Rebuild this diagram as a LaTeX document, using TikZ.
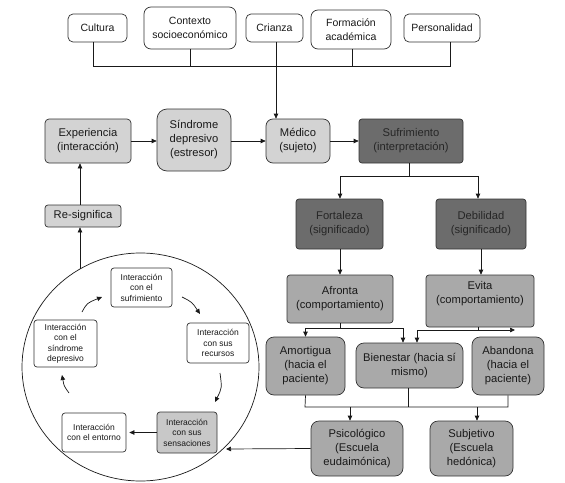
\documentclass[tikz,border=0pt]{standalone}
\usepackage{fontspec}
\setmainfont{Liberation Sans}
\usetikzlibrary{arrows.meta,calc,shapes.geometric}
\definecolor{lg}{HTML}{D3D3D3}
\definecolor{dg}{HTML}{6C6C6C}
\definecolor{mg}{HTML}{A9A9A9}
\definecolor{sg}{HTML}{C8C8C8}
\definecolor{bd}{HTML}{333333}
\newcommand{\fsTop}{\fontsize{10.5}{14}\selectfont}
\newcommand{\fsMain}{\fontsize{11.2}{14}\selectfont}
\newcommand{\fsIn}{\fontsize{8.5}{10.5}\selectfont}
\begin{document}
\begin{tikzpicture}[x=1pt,y=-1pt,
  box/.style={draw=bd, line width=0.7pt, align=center, inner sep=1pt, text=black!90},
  topbox/.style={box, rounded corners=5pt, fill=white, font=\fsTop},
  lbox/.style={box, fill=lg, font=\fsMain},
  dbox/.style={box, fill=dg, rounded corners=3pt, font=\fsMain, text=black!85},
  mbox/.style={box, fill=mg, font=\fsMain},
  ibox/.style={box, fill=white, rounded corners=3pt, font=\fsIn},
  ln/.style={line width=0.7pt, draw=black!90},
  arr/.style={ln, -{Triangle[length=5pt,width=4.5pt]}}
]
\useasboundingbox (0,0) rectangle (565,482);

% top row
\node[topbox, minimum width=59pt, minimum height=28pt] (cultura) at (97.5,28) {Cultura};
\node[topbox, rounded corners=7pt, minimum width=92pt, minimum height=42pt] (contexto) at (190,28) {Contexto\\socioeconómico};
\node[topbox, minimum width=57pt, minimum height=28pt] (crianza) at (274.5,28) {Crianza};
\node[topbox, rounded corners=7pt, minimum width=80pt, minimum height=39pt] (formacion) at (351,29.5) {Formación\\académica};
\node[topbox, minimum width=76pt, minimum height=28pt] (personalidad) at (442,28) {Personalidad};

\coordinate (busL) at (93,66);
\coordinate (busR) at (450,66);
\draw[ln] ([xshift=-4.5pt]cultura.south) -- (busL) -- (busR) -- ([xshift=8pt]personalidad.south);
\draw[ln] (contexto.south) -- (contexto.south |- busL);
\draw[ln] ([xshift=1pt]formacion.south) -- ([xshift=1pt]formacion.south |- busL);

% second row
\node[lbox, rounded corners=4pt, minimum width=86pt, minimum height=44pt] (experiencia) at (88,141) {Experiencia\\(interacción)};
\node[lbox, rounded corners=10pt, minimum width=74pt, minimum height=62pt] (sindrome) at (194,140) {Síndrome\\depresivo\\(estresor)};
\node[lbox, rounded corners=7pt, minimum width=64pt, minimum height=44pt] (medico) at (298,141) {Médico\\(sujeto)};
\node[dbox, minimum width=104pt, minimum height=44pt] (sufrimiento) at (411,141) {Sufrimiento\\(interpretación)};
\node[lbox, rounded corners=3pt, minimum width=76pt, minimum height=22pt] (resignifica) at (83,216) {Re-significa};

\draw[arr] ([xshift=1.5pt]crianza.south) -- ([xshift=1.5pt]crianza.south |- medico.north);
\draw[arr] (experiencia.east) -- (sindrome.west |- experiencia.east);
\draw[arr] (sindrome.east |- medico.west) -- (medico.west);
\draw[arr] (medico.east) -- (sufrimiento.west);
\draw[arr] ([xshift=-3pt]resignifica.north) -- ([xshift=-3pt]resignifica.north |- experiencia.south);

% fortaleza / debilidad
\node[dbox, minimum width=87pt, minimum height=50pt] (fortaleza) at (339.5,224) {Fortaleza\\(significado)};
\node[dbox, minimum width=90pt, minimum height=50pt] (debilidad) at (481,224) {Debilidad\\(significado)};
\coordinate (sj) at (409,176);
\draw[ln] ([xshift=-2pt]sufrimiento.south) -- (sj);
\draw[arr] (sj) -| ([xshift=0.5pt]fortaleza.north);
\draw[arr] (sj) -| ([xshift=-3pt]debilidad.north);

% afronta / evita
\node[mbox, rounded corners=3pt, minimum width=106pt, minimum height=48pt] (afronta) at (340,299) {Afronta\\(comportamiento)};
\node[mbox, rounded corners=3pt, minimum width=108pt, minimum height=52pt] (evita) at (480,301) {Evita\\(comportamiento)\\[4pt]};
\draw[arr] (fortaleza.south -| afronta.north) -- (afronta.north);
\draw[arr] (debilidad.south) -- (debilidad.south |- evita.north);

% third level
\node[mbox, rounded corners=8pt, minimum width=79pt, minimum height=58pt] (amortigua) at (305.5,366) {Amortigua\\(hacia el\\paciente)};
\node[mbox, rounded corners=8pt, minimum width=107pt, minimum height=45pt] (bienestar) at (409.5,365.5) {Bienestar (hacia sí\\mismo)};
\node[mbox, rounded corners=8pt, minimum width=72pt, minimum height=58pt] (abandona) at (508,366) {Abandona\\(hacia el\\paciente)};

\coordinate (aj) at (340,328);
\draw[ln] (afronta.south) -- (aj);
\draw[arr] (aj) -| (amortigua.north);
\draw[arr] (aj) -| ([xshift=-6.5pt]bienestar.north);
\coordinate (ej) at (478,330);
\coordinate (eR) at (515,330);
\draw[ln] ([xshift=-2pt]evita.south) -- (ej);
\draw[arr] (ej) -| ([xshift=7.5pt]bienestar.north);
\draw[arr] (ej) -- (eR);

% bottom
\node[mbox, rounded corners=8pt, minimum width=92pt, minimum height=55pt] (psicologico) at (357,448.5) {Psicológico\\(Escuela\\eudaimónica)};
\node[mbox, rounded corners=8pt, minimum width=83pt, minimum height=55pt] (subjetivo) at (471.5,448.5) {Subjetivo\\(Escuela\\hedónica)};
\coordinate (bL) at (305,407);
\coordinate (bR) at (508,407);
\draw[ln] (amortigua.south) -- (bL) -- (bR) -- (abandona.south);
\draw[ln] ([xshift=-1.5pt]bienestar.south) -- ([xshift=-1.5pt]bienestar.south |- bL);
\draw[arr] ([xshift=-7pt]psicologico.north |- bL) -- ([xshift=-7pt]psicologico.north);
\draw[arr] ([xshift=5.5pt]subjetivo.north |- bL) -- ([xshift=5.5pt]subjetivo.north);

% circle
\node[draw=black!90, line width=0.7pt, ellipse, minimum width=237pt, minimum height=228pt, inner sep=0pt] (circ) at (140.5,367) {};
\coordinate (ctop) at (80,269);
\draw[arr] (ctop) -- (resignifica.south -| ctop);

\node[ibox, minimum width=61pt, minimum height=39pt] (isuf) at (141.5,287.5) {Interacción\\con el\\sufrimiento};
\node[ibox, minimum width=62pt, minimum height=40pt] (irec) at (218,343) {Interacción\\con sus\\recursos};
\node[ibox, minimum width=63pt, minimum height=47pt] (isin) at (65.5,343.5) {Interacción\\con el\\síndrome\\depresivo};
\node[ibox, minimum width=64pt, minimum height=39pt] (ient) at (94,432.5) {Interacción\\con el entorno};
\node[ibox, fill=sg, minimum width=60pt, minimum height=41pt] (isen) at (187,432.5) {Interacción\\con sus\\sensaciones};

\coordinate (c1a) at (82,312); \coordinate (c1b) at (102,297);
\coordinate (c2a) at (182,297); \coordinate (c2b) at (200,314);
\coordinate (c3a) at (220,373); \coordinate (c3b) at (215,402);
\coordinate (c5a) at (69,393); \coordinate (c5b) at (62,375);
\draw[arr] (c1a) .. controls (87,303) .. (c1b);
\draw[arr] (c2a) .. controls (192,302) .. (c2b);
\draw[arr] (c3a) .. controls (222,388) .. (c3b);
\draw[arr] (c5a) .. controls (64,386) .. (c5b);
\draw[arr, shorten >=3pt] (isen.west) -- (ient.east);

\coordinate (pin) at (226,449);
\draw[arr] (psicologico.west) -- (pin);
\end{tikzpicture}
\end{document}
